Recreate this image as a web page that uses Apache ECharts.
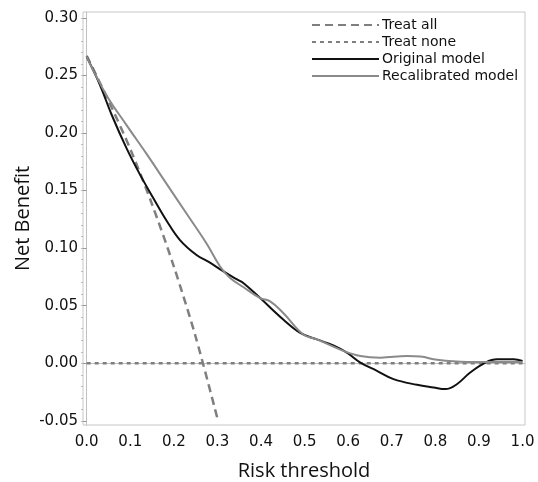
<!DOCTYPE html>
<html>
<head>
<meta charset="utf-8">
<script src="https://cdn.jsdelivr.net/npm/echarts@6/dist/echarts.min.js"></script>
<style>html,body{margin:0;padding:0;background:#fff}#c{width:538px;height:482px}</style>
</head>
<body>
<div id="c"></div>
<script>
// Tick labels
var xTicks = [0, 0.1, 0.2, 0.3, 0.4, 0.5, 0.6, 0.7, 0.8, 0.9, 1.0];
var yTicks = [-0.05, 0, 0.05, 0.10, 0.15, 0.20, 0.25, 0.30];
var yMinorTicks = [-0.05,-0.04,-0.03,-0.02,-0.01,0,0.01,0.02,0.03,0.04,0.05,0.06,0.07,0.08,0.09,0.10,0.11,0.12,0.13,0.14,0.15,0.16,0.17,0.18,0.19,0.20,0.21,0.22,0.23,0.24,0.25,0.26,0.27,0.28,0.29,0.30];

// Treat all
var allX = [0, 0.05, 0.10, 0.15, 0.20, 0.25, 0.30];
var allY = [0.267, 0.228, 0.186, 0.138, 0.084, 0.023, -0.048];

// Treat none
var noneX = [0, 1];
var noneY = [0, 0];

// Original model
var origX = [0, 0.03, 0.057, 0.091, 0.122, 0.152, 0.183, 0.214, 0.252, 0.28, 0.313, 0.344, 0.36, 0.398, 0.451, 0.49, 0.528, 0.566, 0.597, 0.628, 0.666, 0.704, 0.758, 0.796, 0.823, 0.85, 0.88, 0.915, 0.942, 0.98, 1.0];
var origY = [0.266, 0.242, 0.216, 0.187, 0.164, 0.144, 0.124, 0.107, 0.094, 0.088, 0.080, 0.073, 0.0695, 0.0566, 0.038, 0.0264, 0.0207, 0.0155, 0.0092, 0.0006, -0.0066, -0.0138, -0.0187, -0.021, -0.0224, -0.018, -0.008, 0.0006, 0.0034, 0.0034, 0.002];

// Recalibrated model
var recX = [0, 0.045, 0.091, 0.137, 0.183, 0.229, 0.275, 0.306, 0.329, 0.36, 0.398, 0.421, 0.451, 0.497, 0.528, 0.59, 0.628, 0.674, 0.735, 0.766, 0.804, 0.873, 0.919, 1.0];
var recY = [0.266, 0.233, 0.207, 0.182, 0.156, 0.130, 0.104, 0.084, 0.074, 0.066, 0.0566, 0.0537, 0.0437, 0.025, 0.0207, 0.0106, 0.0063, 0.0049, 0.0063, 0.0058, 0.003, 0.0011, 0.001, 0.001];

function zip(xs, ys){ return xs.map(function(x,i){ return [x, ys[i]]; }); }

var chart = echarts.init(document.getElementById('c'), null, {renderer:'canvas'});
var tickFont = {fontFamily:'DejaVu Sans', fontSize:15, color:'#111'};
chart.setOption({
  animation:false,
  grid:{left:83, right:13, top:12, bottom:57, outerBoundsMode:'none', containLabel:false, show:true, borderColor:'#c8c8c8', borderWidth:1, backgroundColor:'#fff'},
  legend:{
    orient:'vertical', left:306, top:13, itemWidth:67, itemHeight:12, itemGap:3,
    itemStyle:{opacity:0},
    textStyle:{fontFamily:'DejaVu Sans', fontSize:14, color:'#111', padding:[0,0,0,-2]},
    data:['Treat all','Treat none','Original model','Recalibrated model']
  },
  xAxis:{
    type:'value', min:-0.0085, max:1.0057,
    name:'Risk threshold', nameLocation:'middle', nameGap:36,
    nameTextStyle:{fontFamily:'Open Sans', fontSize:20, color:'#111'},
    axisLine:{show:true, lineStyle:{color:'#c0c0c0'}},
    axisTick:{show:false},
    splitLine:{show:false},
    axisLabel:Object.assign({customValues:xTicks, margin:10, formatter:function(v){return v.toFixed(1);}}, tickFont)
  },
  yAxis:[{
    type:'value', min:-0.0536, max:0.305,
    name:'Net Benefit', nameLocation:'middle', nameGap:50, nameMoveOverlap:false,
    nameTextStyle:{fontFamily:'Open Sans', fontSize:20, color:'#111'},
    axisLine:{show:true, lineStyle:{color:'#c0c0c0'}},
    axisTick:{show:true, customValues:yTicks, length:5, lineStyle:{color:'#999'}},
    splitLine:{show:false},
    axisLabel:Object.assign({customValues:yTicks, margin:5, formatter:function(v){return v.toFixed(2);}}, tickFont)
  },{
    type:'value', min:-0.0536, max:0.305, position:'left',
    axisLine:{show:false},
    axisTick:{show:true, customValues:yMinorTicks, length:2, lineStyle:{color:'#bbb'}},
    axisLabel:{show:false}, splitLine:{show:false}
  }],
  series:[
    {name:'Treat all', type:'line', symbol:'none', data:zip(allX, allY), smooth:0.3,
     lineStyle:{color:'#7f7f7f', width:2.5, type:[8,5]}, itemStyle:{color:'#7f7f7f'}},
    {name:'Treat none', type:'line', symbol:'none', data:zip(noneX, noneY),
     lineStyle:{color:'#7f7f7f', width:2.5, type:[4,4]}, itemStyle:{color:'#7f7f7f'}},
    {name:'Original model', type:'line', symbol:'none', data:zip(origX, origY), smooth:0.4,
     lineStyle:{color:'#111', width:2}, itemStyle:{color:'#111'}},
    {name:'Recalibrated model', type:'line', symbol:'none', data:zip(recX, recY), smooth:0.4,
     lineStyle:{color:'#8a8a8a', width:2}, itemStyle:{color:'#8a8a8a'}}
  ]
});
</script>
</body>
</html>
